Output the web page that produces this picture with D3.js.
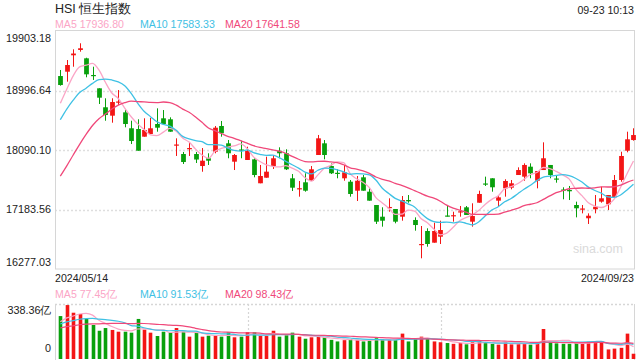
<!DOCTYPE html>
<html><head><meta charset="utf-8">
<script src="https://cdn.jsdelivr.net/npm/d3@7"></script>
<style>
html,body{margin:0;padding:0;background:#fff;}
svg{display:block;font-family:"Liberation Sans",Arial,sans-serif;}
</style></head><body>
<svg id="c" width="640" height="360"></svg>
<script>
// ---- data ----
const opens = [19217,19283,19533,19614,19487,19233,19030,18741,18613,18814,
18664,18421,18410,18293,18334,18486,18573,18558,18159,18029,
18105,18029,17846,17964,18064,18456,18192,17912,18098,17938,
17948,17583,17668,17846,18079,18040,17659,17493,17598,17622,
18014,18192,17846,17743,17659,17607,17470,17674,17455,17252,
17074,17206,17191,17074,17328,17024,16643,16856,16678,16769,
17092,17081,17138,17217,16998,17287,17580,17659,17318,17506,
17516,17709,17684,17836,17622,17785,17862,17656,17488,17481,
17252,17184,17050,17187,17303,17263,17369,17633,18079,18242];
const closes = [19080,19385,19560,19640,19243,19217,18887,18623,18821,18829,
18486,18227,18079,18395,18421,18430,18486,18369,18174,17907,
18120,17945,17927,17927,18430,18345,18040,18014,18082,18079,
17709,17694,17760,17964,18040,17796,17516,17508,17470,17796,
18268,18014,17735,17727,17750,17420,17622,17470,17318,16998,
17013,17222,16998,17328,17308,16947,16658,16658,16856,16871,
17077,17097,17156,17100,17084,17420,17565,17522,17369,17618,
17583,17785,17862,17735,17770,17964,17709,17641,17473,17461,
17202,17199,17089,17226,17354,17404,17633,17999,18253,18318];
const highs = [19309,19461,19624,19716,19496,19359,19030,18878,18878,19004,
18699,18536,18558,18573,18578,18725,18699,18588,18268,18060,
18201,18060,18120,18040,18456,18532,18242,18029,18232,18140,
17964,17862,17988,18014,18131,18101,17724,17618,17735,17846,
18319,18242,17885,17796,17862,17633,17694,17709,17506,17252,
17217,17354,17191,17389,17404,17064,16932,16897,16983,17013,
17237,17150,17237,17237,17278,17470,17684,17659,17404,17644,
17633,17826,17887,17887,17770,18207,17862,17709,17522,17542,
17303,17252,17125,17404,17531,17404,17709,18064,18369,18421];
const lows = [19070,19131,19359,19588,19198,19157,18791,18536,18506,18776,
18436,18181,18079,18293,18334,18369,18471,18369,17999,17877,
17999,17892,17759,17862,18040,18293,17964,17785,17964,17938,
17674,17583,17668,17801,17964,17785,17465,17379,17455,17622,
18014,17948,17724,17659,17622,17379,17313,17470,17318,16963,
16922,17150,16973,17013,17287,16861,16440,16617,16678,16658,
17077,16998,17074,17100,16922,17287,17542,17455,17226,17379,
17491,17709,17622,17659,17506,17785,17659,17592,17339,17328,
17064,17125,16963,17125,17287,17176,17369,17607,18055,18232];
// turnover, 亿
const volumes = [269,338,290,282,251,213,177,194,182,171,
171,165,251,184,165,144,171,167,194,171,
140,165,140,146,146,140,167,136,140,169,
167,144,144,177,140,150,165,140,127,136,
140,135,120,110,118,125,120,110,115,130,
125,120,118,159,110,130,140,125,110,105,
100,95,100,92,105,115,100,95,90,105,
92,95,100,90,96,188,105,98,95,95,
100,98,108,110,112,60,65,70,159,33];
// closes / turnover before the window (estimated from where the MA lines start)
const priorCloses = [16248,16251,16385,16224,16511,16829,17201,17284,17651,17747,17763,18207,18476,18578,18479,18313,18537,18963,19115];
const priorVolumes = [165,175,160,180,170,168,162,170,172,168,200,210,198,212,200,220,230,221,230];
const priceTicks = [19903.18,18996.64,18090.10,17183.56,16277.03];
const volumeTicks = [338.36, 0];
const dateLabels = ["2024/05/14","2024/09/23"];
const priceMALegend = ["MA5 17936.80","MA10 17583.33","MA20 17641.58"];
const volumeMALegend = ["MA5 77.45亿","MA10 91.53亿","MA20 98.43亿"];
const maPeriods = [5,10,20];
const titleText = "HSI 恒生指数";
const timeText = "09-23 10:13";

// ---- layout ----
const W=640,H=360;
const L=55,R=634,T=31,B=269;      // price panel
const VT=304,VB=359;              // volume panel
const red="#f31515", green="#08a00c";
const maColors=["#fba5c6","#3fc1e4","#f0487a"];
const txt="#222";
const svg=d3.select("#c");
const n=closes.length;
const x=d3.scaleBand().domain(d3.range(n)).range([57.1,636.7]).paddingInner(0.26).paddingOuter(0.13);
const cx=i=>x(i)+x.bandwidth()/2;
const y=d3.scaleLinear().domain([priceTicks[4],priceTicks[0]]).range([B,T]);
const yv=d3.scaleLinear().domain([0,volumeTicks[0]]).range([VB,VT+1]);

svg.append("defs").append("clipPath").attr("id","cp").append("rect").attr("x",L).attr("y",T).attr("width",R-L+3).attr("height",B-T);
svg.append("defs").append("clipPath").attr("id","cv").append("rect").attr("x",L).attr("y",VT).attr("width",R-L+3).attr("height",VB-VT+3);

// texts top
svg.append("text").attr("x",L).attr("y",13).attr("font-size",12.5).attr("fill",txt).text(titleText);
svg.append("text").attr("x",R).attr("y",13.5).attr("text-anchor","end").attr("font-size",10.6).attr("fill",txt).text(timeText);
const legX=[L,140,225];
priceMALegend.forEach((t,k)=>svg.append("text").attr("x",legX[k]).attr("y",27.5).attr("font-size",10.6).attr("fill",maColors[k]).text(t));

// price grid
svg.append("g").selectAll("line").data(priceTicks.slice(1,4)).join("line")
 .attr("x1",L).attr("x2",R).attr("y1",d=>Math.round(y(d))+0.5).attr("y2",d=>Math.round(y(d))+0.5)
 .attr("stroke","#dedede").attr("stroke-width",1.6).attr("stroke-dasharray","2,2");
// price frame
svg.append("rect").attr("x",L+0.5).attr("y",T-0.5).attr("width",R-L).attr("height",B-T+0.5).attr("fill","none").attr("stroke","#d6d6d6");

// y axis labels
const ay=d3.axisLeft(y).tickValues(priceTicks).tickSize(0).tickPadding(4).tickFormat(d3.format(".2f"));
const gy=svg.append("g").attr("transform",`translate(${L},0)`).call(ay);
gy.select(".domain").remove();
gy.selectAll("text").attr("font-size",10.8).attr("fill",txt).attr("font-family","Liberation Sans, Arial, sans-serif")
 .attr("dy",(d,i)=> i===0?"0.95em": (i===4?"-0.35em":"0.32em"));

// watermark
svg.append("text").attr("x",623).attr("y",253).attr("text-anchor","end").attr("font-size",12.5).attr("fill","#dadada").text("sina.com");

// candles
const gc=svg.append("g").attr("clip-path","url(#cp)");
const idx=d3.range(n);
const col=i=>closes[i]>=opens[i]?red:green;
gc.selectAll("line.w").data(idx).join("line").attr("class","w")
 .attr("x1",i=>Math.round(cx(i))+0.5).attr("x2",i=>Math.round(cx(i))+0.5)
 .attr("y1",i=>y(highs[i])).attr("y2",i=>y(lows[i])).attr("stroke",col).attr("stroke-width",1);
gc.selectAll("rect.b").data(idx).join("rect").attr("class","b")
 .attr("x",i=>Math.round(cx(i))+0.5-x.bandwidth()/2).attr("width",x.bandwidth())
 .attr("y",i=>y(Math.max(opens[i],closes[i])))
 .attr("height",i=>Math.max(1.2,Math.abs(y(opens[i])-y(closes[i])))).attr("fill",col);

// MA lines
function movingAvg(all,offset,p){return idx.map(i=>d3.mean(all.slice(i+offset-p+1,i+offset+1)));}
const allC=priorCloses.concat(closes), allV=priorVolumes.concat(volumes);
maPeriods.forEach((p,k)=>{
  const m=movingAvg(allC,priorCloses.length,p);
  gc.append("path").attr("d",d3.line().x((d,i)=>cx(i)).y(d=>y(d)).curve(d3.curveMonotoneX)(m))
   .attr("fill","none").attr("stroke",maColors[k]).attr("stroke-width",1.3);
});

// dates
svg.append("text").attr("x",L).attr("y",281.5).attr("font-size",10.6).attr("fill",txt).text(dateLabels[0]);
svg.append("text").attr("x",R).attr("y",281.5).attr("text-anchor","end").attr("font-size",10.6).attr("fill",txt).text(dateLabels[1]);

// volume legend
volumeMALegend.forEach((t,k)=>svg.append("text").attr("x",legX[k]).attr("y",298).attr("font-size",10.6).attr("fill",maColors[k]).text(t));

// volume grid/frame
svg.append("line").attr("x1",L).attr("x2",R).attr("y1",VT+0.5).attr("y2",VT+0.5).attr("stroke","#d6d6d6").attr("stroke-width",1.6).attr("stroke-dasharray","2,2");
[1,2].forEach(k=>{const xx=Math.round(L+(R-L)*k/3)+0.5;
 svg.append("line").attr("x1",xx).attr("x2",xx).attr("y1",VT).attr("y2",H).attr("stroke","#d6d6d6").attr("stroke-width",1.2).attr("stroke-dasharray","2,2");});
svg.append("line").attr("x1",L+0.5).attr("x2",L+0.5).attr("y1",VT).attr("y2",H).attr("stroke","#d6d6d6");
svg.append("line").attr("x1",R+0.5).attr("x2",R+0.5).attr("y1",VT).attr("y2",H).attr("stroke","#d6d6d6");

// volume labels
svg.append("text").attr("x",51.5).attr("y",314).attr("text-anchor","end").attr("font-size",10.8).attr("fill",txt).text(d3.format(".2f")(volumeTicks[0])+"亿");
svg.append("text").attr("x",51).attr("y",351.5).attr("text-anchor","end").attr("font-size",10.8).attr("fill",txt).text(volumeTicks[1]);

// volume bars
const gv=svg.append("g").attr("clip-path","url(#cv)");
const vw=3.6;
gv.selectAll("rect").data(idx).join("rect")
 .attr("x",i=>Math.round(cx(i))+0.5-vw/2).attr("width",vw)
 .attr("y",i=>yv(volumes[i])).attr("height",i=>yv(0)-yv(volumes[i])).attr("fill",col);
maPeriods.forEach((p,k)=>{
  const m=movingAvg(allV,priorVolumes.length,p);
  gv.append("path").attr("d",d3.line().x((d,i)=>cx(i)).y(d=>yv(d)).curve(d3.curveMonotoneX)(m))
   .attr("fill","none").attr("stroke",maColors[k]).attr("stroke-width",1.2);
});
</script></body></html>
